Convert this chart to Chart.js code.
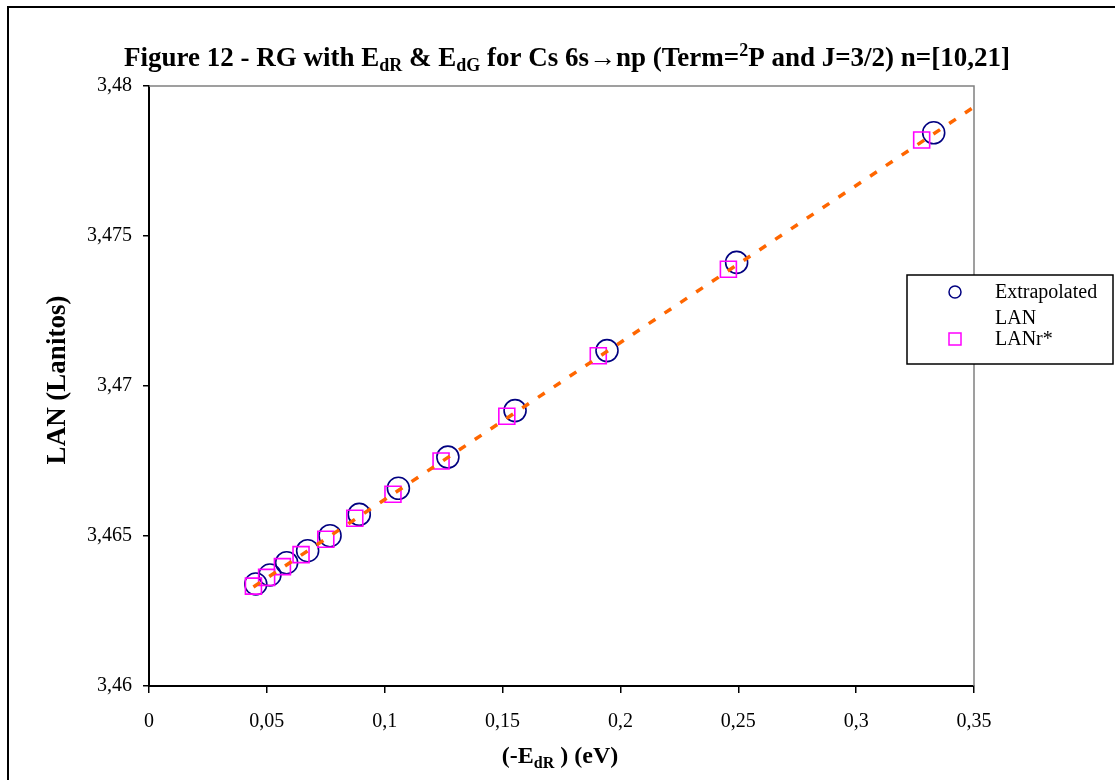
<!DOCTYPE html>
<html>
<head>
<meta charset="utf-8">
<script src="https://cdn.jsdelivr.net/npm/chart.js@4.4.0/dist/chart.umd.min.js"></script>
<style>
  body { margin: 0; background: #fff; }
  #wrap { width: 1115px; height: 780px; position: relative; }
</style>
</head>
<body>
<div id="wrap"><canvas id="myChart" width="1115" height="780"></canvas></div>
<script>
// values
const extrapX = [0.0453, 0.0513, 0.0584, 0.0673, 0.0768, 0.0892, 0.1058, 0.1268, 0.1553, 0.1943, 0.2493, 0.3329];
const extrapY = [3.4634, 3.4637, 3.46411, 3.46451, 3.46501, 3.46572, 3.46659, 3.46763, 3.46918, 3.47118, 3.47412, 3.47844];
const lanrX = [0.0443, 0.0499, 0.0566, 0.0645, 0.0750, 0.0873, 0.1035, 0.1239, 0.1518, 0.1906, 0.2458, 0.3278];
const lanrY = [3.46333, 3.46362, 3.46398, 3.46438, 3.46489, 3.46559, 3.46639, 3.4675, 3.46899, 3.47101, 3.47389, 3.4782];
const trendX = [0.0443, 0.35];
const trendY = [3.4633, 3.4793];

const xTicks = [0, 0.05, 0.1, 0.15, 0.2, 0.25, 0.3, 0.35];
const xTickLabels = ['0', '0,05', '0,1', '0,15', '0,2', '0,25', '0,3', '0,35'];
const yTicks = [3.46, 3.465, 3.47, 3.475, 3.48];
const yTickLabels = ['3,46', '3,465', '3,47', '3,475', '3,48'];

const serif = '"Liberation Serif", "Times New Roman", serif';
const navy = '#000080';
const magenta = '#FF00FF';
const orange = '#FF6600';

const toPoints = (xs, ys) => xs.map((x, i) => ({ x: x, y: ys[i] }));

// text with sub/superscripts, parts = [[text, kind]]
const richText = (ctx, parts, x, y, size) => {
    const small = Math.round(size * 0.65);
    const widths = parts.map(([t, kind]) => {
        ctx.font = `bold ${kind ? small : size}px ${serif}`;
        return ctx.measureText(t).width;
    });
    let cx = x - widths.reduce((a, b) => a + b, 0) / 2;
    parts.forEach(([t, kind], i) => {
        ctx.font = `bold ${kind ? small : size}px ${serif}`;
        const dy = kind === 'sub' ? size * 0.2 : kind === 'sup' ? -size * 0.38 : 0;
        ctx.fillText(t, cx, y + dy);
        cx += widths[i];
    });
};

const decorPlugin = {
    id: 'decor',
    beforeDatasetsDraw(chart) {
        const { ctx, chartArea: a } = chart;
        ctx.save();
        ctx.strokeStyle = '#808080';
        ctx.lineWidth = 1.5;
        ctx.beginPath();
        ctx.moveTo(a.left, a.top);
        ctx.lineTo(a.right, a.top);
        ctx.lineTo(a.right, a.bottom);
        ctx.stroke();
        ctx.restore();
    },
    afterDraw(chart) {
        const { ctx, chartArea: a } = chart;
        ctx.save();
        // outer frame
        ctx.strokeStyle = '#000';
        ctx.lineWidth = 2;
        ctx.beginPath();
        ctx.moveTo(8, 780);
        ctx.lineTo(8, 7);
        ctx.lineTo(1115, 7);
        ctx.stroke();

        ctx.fillStyle = '#000';
        ctx.textAlign = 'left';
        ctx.textBaseline = 'alphabetic';
        richText(ctx, [
            ['Figure 12 - RG with E', ''], ['dR', 'sub'], [' & E', ''], ['dG', 'sub'],
            [' for Cs 6s\u2192np (Term=', ''], ['2', 'sup'], ['P and J=3/2) n=[10,21]', '']
        ], 567, 66, 27);

        richText(ctx, [['(-E', ''], ['dR', 'sub'], [' ) (eV)', '']], 560, 763, 24);

        ctx.save();
        ctx.translate(65, (a.top + a.bottom) / 2 - 6);
        ctx.rotate(-Math.PI / 2);
        ctx.textAlign = 'center';
        ctx.font = `bold 27px ${serif}`;
        ctx.fillText('LAN (Lanitos)', 0, 0);
        ctx.restore();

        // legend
        const lx = 907, ly = 275;
        ctx.fillStyle = '#fff';
        ctx.fillRect(lx, ly, 206, 89);
        ctx.strokeStyle = '#000';
        ctx.lineWidth = 1.5;
        ctx.strokeRect(lx, ly, 206, 89);
        ctx.lineWidth = 1.5;
        ctx.strokeStyle = navy;
        ctx.beginPath();
        ctx.arc(lx + 48, ly + 17, 6, 0, Math.PI * 2);
        ctx.stroke();
        ctx.strokeStyle = magenta;
        ctx.strokeRect(lx + 42, ly + 58, 12, 12);
        ctx.fillStyle = '#000';
        ctx.font = `20px ${serif}`;
        const lab = chart.data.datasets[0].label.split(' ');
        ctx.fillText(lab[0], lx + 88, ly + 23);
        ctx.fillText(lab[1], lx + 88, ly + 49);
        ctx.fillText(chart.data.datasets[1].label, lx + 88, ly + 70);
        ctx.restore();
    }
};

const ctx = document.getElementById('myChart').getContext('2d');
const chart = new Chart(ctx, {
    type: 'scatter',
    data: {
        datasets: [{
            label: 'Extrapolated LAN',
            data: toPoints(extrapX, extrapY),
            pointStyle: 'circle',
            pointRadius: 11,
            pointHoverRadius: 11,
            borderColor: navy,
            backgroundColor: 'rgba(0,0,0,0)',
            pointBorderWidth: 1.6,
            order: 3
        }, {
            label: 'LANr*',
            data: toPoints(lanrX, lanrY),
            pointStyle: 'rect',
            pointRadius: 11.3,
            pointHoverRadius: 11.3,
            borderColor: magenta,
            backgroundColor: 'rgba(0,0,0,0)',
            pointBorderWidth: 1.6,
            order: 2
        }, {
            label: 'trend',
            data: toPoints(trendX, trendY),
            showLine: true,
            pointRadius: 0,
            borderColor: orange,
            borderWidth: 3.5,
            borderDash: [8, 11],
            order: 1
        }]
    },
    options: {
        responsive: false,
        animation: false,
        events: [],
        layout: { padding: { left: 0, top: 86, right: 141, bottom: 0 } },
        plugins: {
            legend: { display: false },
            title: { display: false },
            tooltip: { enabled: false }
        },
        scales: {
            x: {
                type: 'linear',
                min: 0,
                max: 0.35,
                afterBuildTicks: s => { s.ticks = xTicks.map(v => ({ value: v })); },
                afterFit: s => { s.height = 94; },
                grid: { drawOnChartArea: false, tickLength: 7, color: '#000', lineWidth: 1.5 },
                border: { color: '#000', width: 2 },
                ticks: {
                    padding: 17,
                    color: '#000',
                    font: { family: serif, size: 20 },
                    maxRotation: 0,
                    callback: (v, i) => xTickLabels[i]
                }
            },
            y: {
                type: 'linear',
                min: 3.46,
                max: 3.48,
                afterBuildTicks: s => { s.ticks = yTicks.map(v => ({ value: v })); },
                afterFit: s => { s.width = 149; },
                grid: { drawOnChartArea: false, tickLength: 6, color: '#000', lineWidth: 1.5 },
                border: { color: '#000', width: 2 },
                ticks: {
                    padding: 11,
                    color: '#000',
                    font: { family: serif, size: 20 },
                    callback: (v, i) => yTickLabels[i]
                }
            }
        }
    },
    plugins: [decorPlugin]
});
</script>
</body>
</html>
